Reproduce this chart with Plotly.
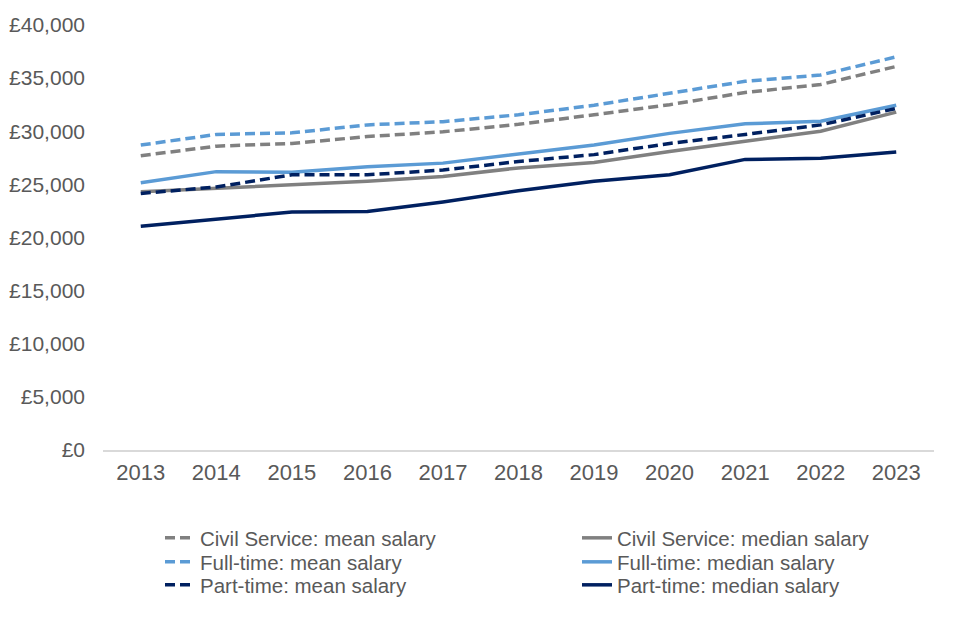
import plotly.graph_objects as go

years = ["2013", "2014", "2015", "2016", "2017", "2018", "2019", "2020", "2021", "2022", "2023"]

cs_mean = [27700, 28600, 28850, 29500, 29950, 30650, 31550, 32500, 33650, 34400, 36100]
cs_median = [24300, 24650, 24950, 25300, 25750, 26550, 27050, 28100, 29050, 30000, 31800]
ft_mean = [28700, 29700, 29850, 30600, 30900, 31550, 32450, 33600, 34700, 35300, 37000]
ft_median = [25150, 26200, 26150, 26650, 27000, 27850, 28700, 29800, 30700, 30950, 32450]
pt_mean = [24150, 24750, 25900, 25900, 26350, 27150, 27800, 28850, 29700, 30600, 32150]
pt_median = [21050, 21750, 22400, 22450, 23350, 24400, 25300, 25900, 27350, 27450, 28050]

GRAY = "#808080"
LBLUE = "#5b9bd5"
NAVY = "#002060"

series = [
    ("Civil Service: mean salary", cs_mean, GRAY, "10px,5px", "legend"),
    ("Civil Service: median salary", cs_median, GRAY, "solid", "legend"),
    ("Full-time: mean salary", ft_mean, LBLUE, "10px,5px", "legend2"),
    ("Full-time: median salary", ft_median, LBLUE, "solid", "legend2"),
    ("Part-time: mean salary", pt_mean, NAVY, "10px,5px", "legend3"),
    ("Part-time: median salary", pt_median, NAVY, "solid", "legend3"),
]

fig = go.Figure()
for name, vals, color, dash, leg in series:
    fig.add_trace(go.Scatter(
        x=years, y=vals, name=name, mode="lines", legend=leg,
        line=dict(color=color, width=3.5, dash=dash),
    ))

# the page body adds an 8px offset, so layout is in figure coordinates (page - 8)
OFF = 8
PL, PT, PW, PH = 103 - OFF, 25 - OFF, 831, 425


def legend_row(yc):
    return dict(
        orientation="h",
        x=(160 - OFF - PL) / PW, xanchor="left",
        y=(PT + PH - (yc - OFF)) / PH, yanchor="middle",
        entrywidth=372, entrywidthmode="pixels",
        font=dict(size=20.5, color="#595959"),
        bgcolor="rgba(0,0,0,0)",
    )


fig.update_layout(
    width=960, height=640,
    margin=dict(l=PL, r=960 - PL - PW, t=PT, b=640 - PT - PH, autoexpand=False),
    plot_bgcolor="white", paper_bgcolor="white",
    font=dict(family="Liberation Sans, Arial, sans-serif", size=20, color="#595959"),
    showlegend=True,
    legend=legend_row(538),
    legend2=legend_row(562),
    legend3=legend_row(585),
    xaxis=dict(
        type="category", range=[-0.5, 10.5],
        showline=True, linecolor="#d9d9d9", linewidth=1.5,
        showgrid=False, ticks="",
        tickfont=dict(size=22, color="#595959"),
        ticklabelstandoff=2,
    ),
    yaxis=dict(
        range=[0, 40000], dtick=5000,
        tickprefix="£", tickformat=",",
        showgrid=False, showline=False, zeroline=False, ticks="",
        tickfont=dict(size=21, color="#595959"),
        ticklabelstandoff=17,
    ),
)

fig.write_html("out.html")
